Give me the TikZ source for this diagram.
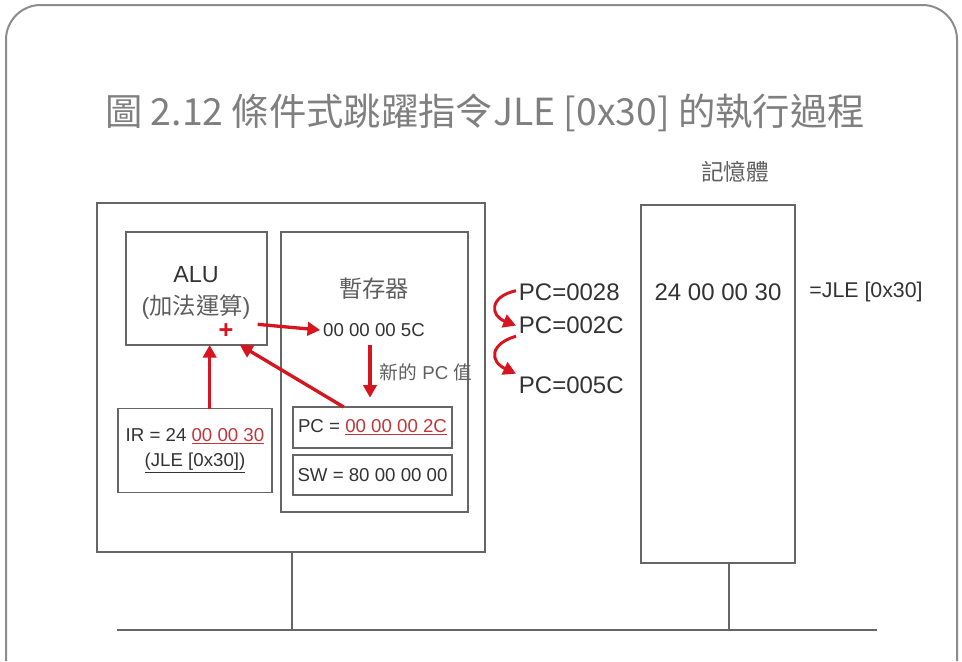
\documentclass[tikz,border=0pt]{standalone}
\usepackage{fontspec}
\setmainfont{Liberation Sans}
\newfontfamily\cjk{Noto Sans CJK TC}
\usetikzlibrary{arrows.meta,positioning}
\definecolor{inkgray}{HTML}{333333}
\definecolor{titlegray}{HTML}{7F7F7F}
\definecolor{labelgray}{HTML}{5E5E5E}
\definecolor{linegray}{HTML}{666666}
\definecolor{framegray}{HTML}{8C8C8C}
\definecolor{arrowred}{HTML}{D8141E}
\definecolor{textred}{HTML}{C0363C}

\begin{document}
\begin{tikzpicture}[x=0.75pt,y=-0.75pt,
        block/.style={draw=linegray,line width=1pt,rectangle,outer sep=0pt},
        txt/.style={text=inkgray,inner sep=2pt,font=\fontsize{14pt}{19pt}\selectfont},
        big/.style={txt,font=\fontsize{18pt}{22pt}\selectfont},
        red arrow/.style={draw=arrowred,line width=2.5pt,-{Triangle[length=9.5pt,width=10pt]}},
        wire/.style={draw=linegray,line width=0.8pt},
        bus/.style={draw=linegray,line width=1.6pt}]
   \useasboundingbox (0,0) rectangle (962,661);
   \draw[framegray,line width=1.5pt,rounded corners=26pt] (6,661) -- (6,5) -- (957,5) -- (957,661);
   \node (T) [text=titlegray,font=\cjk\fontsize{28pt}{32pt}\selectfont] at (485,113) {圖 2.12 條件式跳躍指令JLE [0x30] 的執行過程};

   \node (CPU) [block,minimum width=291pt,minimum height=261.75pt] at (291,377.5) {};
   \node (ALU) [block,minimum width=105.75pt,minimum height=84.75pt] at (196.5,288.5) {};
   \node (REG) [block,minimum width=140.25pt,minimum height=210pt] at (374.5,372) {};
   \node (PC) [block,txt,minimum width=119.25pt,minimum height=30.75pt] at (372.5,427.5) {PC = {\color{textred}\underline{00 00 00 2C}}};
   \node (SW) [block,txt,minimum width=119.25pt,minimum height=30pt] at (372.5,475) {SW = 80 00 00 00};
   \node (IR) [block,txt,align=center,minimum width=115.5pt,minimum height=63pt] at (195,450.5) {IR = 24 {\color{textred}\underline{00 00 30}}\\\underline{(JLE [0x30])}};
   \node (MEM) [block,minimum width=115.5pt,minimum height=268.5pt] at (718,384) {};

   \node (A) [big,font=\fontsize{17.5pt}{22pt}\selectfont] at (196,275) {ALU};
   \node (B) [big,text=labelgray,font=\fontsize{17.5pt}{22pt}\selectfont] at (196,307) {({\cjk 加法運算})};
   \node (P) [text=arrowred,inner sep=1pt,font=\bfseries\fontsize{19pt}{19pt}\selectfont] at (226,331) {+};
   \node (R) [big,text=labelgray,font=\cjk\fontsize{17.5pt}{22pt}\selectfont] at (374,289) {暫存器};
   \node (S) [txt] at (374,330) {00 00 00 5C};
   \node (N) [txt,text=labelgray] at (426,372) {{\cjk 新的} PC {\cjk 值}};
   \node (M) [big,text=labelgray,font=\cjk\fontsize{17pt}{22pt}\selectfont] at (735,172) {記憶體};
   \node (W) [big] at (718,292) {24 00 00 30};
   \node (J) [txt,font=\fontsize{16pt}{20pt}\selectfont] at (866,292) {=JLE [0x30]};
   \node (C1) [big,anchor=west] at (516,292) {PC=0028};
   \node (C2) [big,below=8pt of C1.south west,anchor=north west] {PC=002C};
   \node (C3) [big,below=27.5pt of C2.south west,anchor=north west] {PC=005C};

   \draw[red arrow] ([xshift=11pt]IR.north) -- ([xshift=11pt]IR.north |- ALU.south);
   \draw[red arrow] ([xshift=38pt]PC.north west) -- ([xshift=32.5pt]ALU.south);
   \draw[red arrow] ([xshift=17pt,yshift=5pt]P.east) -- (S.west);
   \draw[red arrow,shorten <=4pt,shorten >=7pt] ([xshift=-3pt]S.south) -- ([xshift=-3pt]S.south |- PC.north);
   \draw[red arrow,line width=2.2pt] ([yshift=1pt]C1.west) .. controls +(-27,6) and +(-26,-10) .. (C2.west);
   \draw[red arrow,line width=2.2pt] ([yshift=-8pt]C2.west) .. controls +(-27,8) and +(-26,-12) .. (C3.north west);

   \coordinate (L) at (117,630);
   \coordinate (E) at (877,630);
   \draw[bus] (L) -- (E);
   \draw[wire] ([xshift=0.75pt]CPU.south) -- ([xshift=0.75pt]CPU.south |- L);
   \draw[wire] ([xshift=8.25pt]MEM.south) -- ([xshift=8.25pt]MEM.south |- L);
\end{tikzpicture}
\end{document}
